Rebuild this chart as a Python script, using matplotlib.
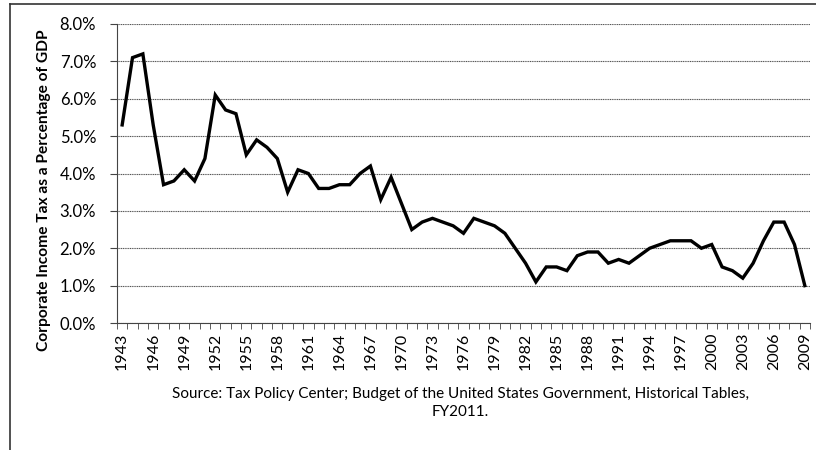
import matplotlib.pyplot as plt
from matplotlib.ticker import FixedLocator, FuncFormatter
import numpy as np

plt.rcParams['font.family'] = ['Lato', 'DejaVu Sans']

years = list(range(1943, 2010))
tax_pct = [
    5.3, 7.1, 7.2, 5.3, 3.7, 3.8, 4.1, 3.8, 4.4, 6.1,   # 1943-1952
    5.7, 5.6, 4.5, 4.9, 4.7, 4.4, 3.5, 4.1, 4.0, 3.6,   # 1953-1962
    3.6, 3.7, 3.7, 4.0, 4.2, 3.3, 3.9, 3.2, 2.5, 2.7,   # 1963-1972
    2.8, 2.7, 2.6, 2.4, 2.8, 2.7, 2.6, 2.4, 2.0, 1.6,   # 1973-1982
    1.1, 1.5, 1.5, 1.4, 1.8, 1.9, 1.9, 1.6, 1.7, 1.6,   # 1983-1992
    1.8, 2.0, 2.1, 2.2, 2.2, 2.2, 2.0, 2.1, 1.5, 1.4,   # 1993-2002
    1.2, 1.6, 2.2, 2.7, 2.7, 2.1, 1.0,                  # 2003-2009
]
label_years = years[::3]
y_label = 'Corporate Income Tax as a Percentage of GDP'
source = ('Source: Tax Policy Center; Budget of the United States Government, Historical Tables,\n'
          'FY2011.')

fig = plt.figure(figsize=(8.16, 4.5), dpi=100)
ax = fig.add_axes([117 / 816, 1 - 323 / 450, 693 / 816, 299 / 450])

x = np.arange(len(years))
ax.plot(x, tax_pct, color='black', linewidth=2.4, solid_joinstyle='miter')

ax.set_xlim(-0.5, len(years) - 0.5)
ax.set_ylim(0, 8)
ax.set_yticks(np.arange(0, 9, 1))
ax.yaxis.set_major_formatter(FuncFormatter(lambda v, p: f'{v:.1f}%'))
ax.grid(axis='y', color='#555555', linewidth=0.8, linestyle=(0, (1, 0.6)))
ax.set_axisbelow(True)

# ticks between categories, labels every third year
ax.xaxis.set_major_locator(FixedLocator([years.index(yr) for yr in label_years]))
ax.set_xticklabels([str(yr) for yr in label_years], rotation=90)
ax.xaxis.set_minor_locator(FixedLocator(np.arange(-0.5, len(years), 1)))
ax.tick_params(axis='x', which='major', length=0, pad=7, labelsize=11.5)
ax.tick_params(axis='x', which='minor', length=4, color='#444444')
ax.tick_params(axis='y', length=5, pad=10, labelsize=12, color='#444444')

for side in ['top', 'right']:
    ax.spines[side].set_visible(False)
ax.spines['left'].set_color('#444444')
ax.spines['bottom'].set_color('#444444')

fig.text(44 / 816, 1 - 190 / 450, y_label, rotation=90, ha='center', va='center',
         fontsize=11.2, fontweight='bold')
fig.text(460 / 816, 1 - 403 / 450, source, ha='center', va='center', fontsize=11,
         linespacing=1.4)

# outer frame of the scanned page
fig.add_artist(plt.Line2D([10 / 816, 10 / 816], [0, 1 - 4 / 450], color='#333333',
                          linewidth=1.2, transform=fig.transFigure))
fig.add_artist(plt.Line2D([10 / 816, 1], [1 - 4 / 450, 1 - 4 / 450], color='#333333',
                          linewidth=1.2, transform=fig.transFigure))

fig.savefig('out.png', dpi=100)
